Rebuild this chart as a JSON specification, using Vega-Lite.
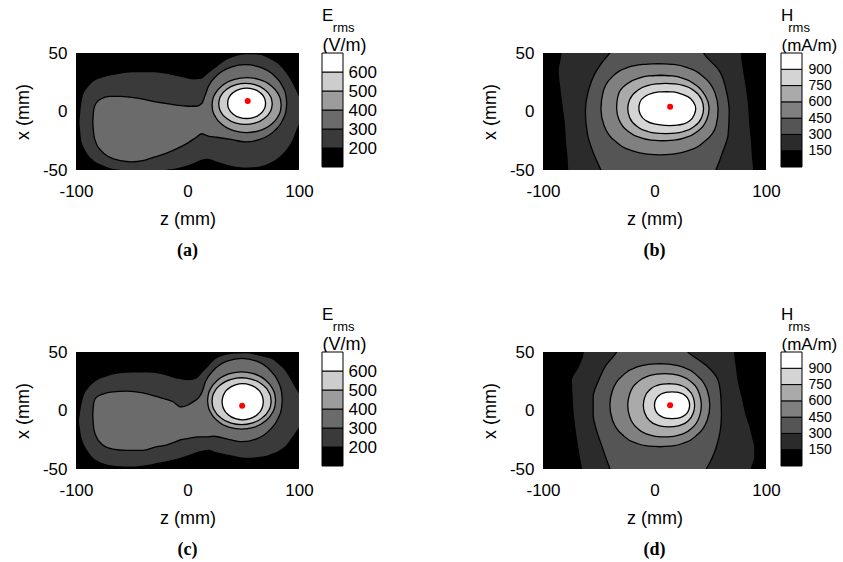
{
  "$schema": "https://vega.github.io/schema/vega-lite/v6.json",
  "autosize": {"type": "none"},
  "padding": {"left": 76, "top": 53, "right": 767, "bottom": 509},
  "background": "white",
  "config": {
    "view": {"stroke": null},
    "font": "Liberation Sans",
    "axis": {"labelFont": "Liberation Sans", "titleFont": "Liberation Sans", "labelColor": "black", "titleColor": "black", "titleFontWeight": "normal", "grid": false, "domain": false, "ticks": false, "labelFlush": false, "labelOverlap": false},
    "title": {"color": "black", "subtitleColor": "black"}
  },
  "datasets": {
    "cbe": [{"lo":100,"hi":200},{"lo":200,"hi":300},{"lo":300,"hi":400},{"lo":400,"hi":500},{"lo":500,"hi":600},{"lo":600,"hi":700}],
    "cbh": [{"lo":0,"hi":150},{"lo":150,"hi":300},{"lo":300,"hi":450},{"lo":450,"hi":600},{"lo":600,"hi":750},{"lo":750,"hi":900},{"lo":900,"hi":1050}],
    "ea": [
      {"lev":200,"z":-97.5,"lo":-9,"hi":-9},{"lev":200,"z":-96,"lo":-24,"hi":6},{"lev":200,"z":-94,"lo":-30,"hi":15},{"lev":200,"z":-90,"lo":-37,"hi":21},{"lev":200,"z":-85,"lo":-42,"hi":26},{"lev":200,"z":-75,"lo":-47,"hi":30},{"lev":200,"z":-65,"lo":-50,"hi":32},{"lev":200,"z":-50,"lo":-51,"hi":34},{"lev":200,"z":-30,"lo":-51,"hi":34},{"lev":200,"z":-15,"lo":-50,"hi":32},{"lev":200,"z":-5,"lo":-48,"hi":30},{"lev":200,"z":5,"lo":-45,"hi":28},{"lev":200,"z":12,"lo":-42,"hi":28.5},{"lev":200,"z":18,"lo":-41,"hi":33},{"lev":200,"z":25,"lo":-43,"hi":38},{"lev":200,"z":35,"lo":-46,"hi":45},{"lev":200,"z":45,"lo":-48,"hi":48.5},{"lev":200,"z":55,"lo":-48.5,"hi":49.5},{"lev":200,"z":65,"lo":-47.5,"hi":49},{"lev":200,"z":75,"lo":-44,"hi":45},{"lev":200,"z":83,"lo":-39,"hi":40},{"lev":200,"z":90,"lo":-32,"hi":32},{"lev":200,"z":95,"lo":-24,"hi":24},{"lev":200,"z":99,"lo":-14,"hi":16},{"lev":200,"z":101,"lo":-10,"hi":12},
      {"lev":300,"z":-85,"lo":-9,"hi":-9},{"lev":300,"z":-84,"lo":-20,"hi":2},{"lev":300,"z":-82,"lo":-27,"hi":7},{"lev":300,"z":-78,"lo":-33,"hi":10.5},{"lev":300,"z":-70,"lo":-39,"hi":13},{"lev":300,"z":-60,"lo":-42,"hi":13},{"lev":300,"z":-50,"lo":-43,"hi":12},{"lev":300,"z":-40,"lo":-42,"hi":10.5},{"lev":300,"z":-30,"lo":-39,"hi":8.5},{"lev":300,"z":-20,"lo":-36,"hi":7},{"lev":300,"z":-10,"lo":-32,"hi":5.5},{"lev":300,"z":0,"lo":-27,"hi":4.5},{"lev":300,"z":8,"lo":-22,"hi":4.5},{"lev":300,"z":13,"lo":-19,"hi":7},{"lev":300,"z":15.7,"lo":-20,"hi":13.6},{"lev":300,"z":18.7,"lo":-21,"hi":21.4},{"lev":300,"z":26.1,"lo":-22,"hi":30.6},{"lev":300,"z":39.05,"lo":-23.9,"hi":37.9},{"lev":300,"z":52,"lo":-26,"hi":40},{"lev":300,"z":64.95,"lo":-23.9,"hi":37.9},{"lev":300,"z":77.9,"lo":-16.6,"hi":30.6},{"lev":300,"z":85.3,"lo":-7.4,"hi":21.4},{"lev":300,"z":88.3,"lo":0.4,"hi":13.6},{"lev":300,"z":89,"lo":7,"hi":7},
      {"lev":400,"z":22,"lo":5.5,"hi":5.5},{"lev":400,"z":22.6,"lo":0.8,"hi":10.2},{"lev":400,"z":25.1,"lo":-4.7,"hi":15.7},{"lev":400,"z":31.3,"lo":-11.3,"hi":22.3},{"lev":400,"z":42.2,"lo":-16.5,"hi":27.5},{"lev":400,"z":53,"lo":-18,"hi":29},{"lev":400,"z":63.9,"lo":-16.5,"hi":27.5},{"lev":400,"z":74.7,"lo":-11.3,"hi":22.3},{"lev":400,"z":80.9,"lo":-4.7,"hi":15.7},{"lev":400,"z":83.4,"lo":0.8,"hi":10.2},{"lev":400,"z":84,"lo":5.5,"hi":5.5},
      {"lev":500,"z":28,"lo":6.5,"hi":6.5},{"lev":500,"z":28.5,"lo":3,"hi":10},{"lev":500,"z":30.4,"lo":-1.1,"hi":14.1},{"lev":500,"z":35.2,"lo":-6,"hi":19},{"lev":500,"z":43.6,"lo":-9.9,"hi":22.9},{"lev":500,"z":52,"lo":-11,"hi":24},{"lev":500,"z":60.4,"lo":-9.9,"hi":22.9},{"lev":500,"z":68.8,"lo":-6,"hi":19},{"lev":500,"z":73.6,"lo":-1.1,"hi":14.1},{"lev":500,"z":75.5,"lo":3,"hi":10},{"lev":500,"z":76,"lo":6.5,"hi":6.5},
      {"lev":600,"z":36,"lo":7,"hi":7},{"lev":600,"z":36.3,"lo":4.4,"hi":9.6},{"lev":600,"z":37.7,"lo":1.3,"hi":12.7},{"lev":600,"z":41.1,"lo":-2.3,"hi":16.3},{"lev":600,"z":47.05,"lo":-5.2,"hi":19.2},{"lev":600,"z":53,"lo":-6,"hi":20},{"lev":600,"z":58.95,"lo":-5.2,"hi":19.2},{"lev":600,"z":64.9,"lo":-2.3,"hi":16.3},{"lev":600,"z":68.3,"lo":1.3,"hi":12.7},{"lev":600,"z":69.7,"lo":4.4,"hi":9.6},{"lev":600,"z":70,"lo":7,"hi":7}
    ],
    "ec": [
      {"lev":200,"z":-98,"lo":-9,"hi":-9},{"lev":200,"z":-96,"lo":-22,"hi":4},{"lev":200,"z":-94,"lo":-28,"hi":12},{"lev":200,"z":-90,"lo":-35,"hi":19},{"lev":200,"z":-85,"lo":-41,"hi":24},{"lev":200,"z":-82,"lo":-43,"hi":26},{"lev":200,"z":-75,"lo":-46,"hi":29},{"lev":200,"z":-64,"lo":-48,"hi":32},{"lev":200,"z":-49,"lo":-48.5,"hi":33},{"lev":200,"z":-35,"lo":-47,"hi":33},{"lev":200,"z":-25,"lo":-45,"hi":32},{"lev":200,"z":-10,"lo":-42,"hi":28},{"lev":200,"z":0,"lo":-39,"hi":26.5},{"lev":200,"z":7,"lo":-36.6,"hi":27.5},{"lev":200,"z":13,"lo":-35,"hi":33},{"lev":200,"z":19,"lo":-34,"hi":39},{"lev":200,"z":25,"lo":-36,"hi":44.6},{"lev":200,"z":32,"lo":-37.5,"hi":47.5},{"lev":200,"z":40,"lo":-39,"hi":49},{"lev":200,"z":52,"lo":-41,"hi":49.5},{"lev":200,"z":62,"lo":-40.5,"hi":48},{"lev":200,"z":70,"lo":-39.5,"hi":46},{"lev":200,"z":76,"lo":-37.5,"hi":44.6},{"lev":200,"z":82,"lo":-35,"hi":40},{"lev":200,"z":88,"lo":-31,"hi":34.6},{"lev":200,"z":93,"lo":-25,"hi":27},{"lev":200,"z":97,"lo":-19.5,"hi":20},{"lev":200,"z":101,"lo":-14,"hi":14},
      {"lev":300,"z":-85,"lo":-4,"hi":-4},{"lev":300,"z":-84,"lo":-16,"hi":7},{"lev":300,"z":-82,"lo":-22,"hi":11},{"lev":300,"z":-76,"lo":-29.5,"hi":14},{"lev":300,"z":-67,"lo":-33,"hi":16},{"lev":300,"z":-55,"lo":-34,"hi":16.5},{"lev":300,"z":-40,"lo":-34,"hi":15},{"lev":300,"z":-28,"lo":-31,"hi":12},{"lev":300,"z":-19,"lo":-29.5,"hi":9.5},{"lev":300,"z":-13,"lo":-27.5,"hi":7.5},{"lev":300,"z":-6,"lo":-25,"hi":3},{"lev":300,"z":0,"lo":-24,"hi":4.5},{"lev":300,"z":6,"lo":-23,"hi":8},{"lev":300,"z":10,"lo":-22.5,"hi":11},{"lev":300,"z":13.2,"lo":-22.5,"hi":16.1},{"lev":300,"z":16.1,"lo":-22.5,"hi":24.5},{"lev":300,"z":23.4,"lo":-22,"hi":34.4},{"lev":300,"z":36.1,"lo":-24.4,"hi":42.4},{"lev":300,"z":48.75,"lo":-26.6,"hi":44.6},{"lev":300,"z":61.4,"lo":-24.4,"hi":42.4},{"lev":300,"z":74.1,"lo":-16.4,"hi":34.4},{"lev":300,"z":81.4,"lo":-6.5,"hi":24.5},{"lev":300,"z":84.3,"lo":1.9,"hi":16.1},{"lev":300,"z":85,"lo":9,"hi":9},
      {"lev":400,"z":18,"lo":8.5,"hi":8.5},{"lev":400,"z":18.6,"lo":3.6,"hi":13.4},{"lev":400,"z":21.05,"lo":-2.2,"hi":19.2},{"lev":400,"z":27.15,"lo":-9,"hi":26},{"lev":400,"z":37.8,"lo":-14.5,"hi":31.5},{"lev":400,"z":48.5,"lo":-16,"hi":33},{"lev":400,"z":59.2,"lo":-14.5,"hi":31.5},{"lev":400,"z":69.85,"lo":-9,"hi":26},{"lev":400,"z":75.95,"lo":-2.2,"hi":19.2},{"lev":400,"z":78.4,"lo":3.6,"hi":13.4},{"lev":400,"z":79,"lo":8.5,"hi":8.5},
      {"lev":500,"z":22,"lo":8,"hi":8},{"lev":500,"z":22.5,"lo":4,"hi":12},{"lev":500,"z":24.65,"lo":-0.7,"hi":16.7},{"lev":500,"z":29.95,"lo":-6.3,"hi":22.3},{"lev":500,"z":39.2,"lo":-10.7,"hi":26.7},{"lev":500,"z":48.5,"lo":-12,"hi":28},{"lev":500,"z":57.8,"lo":-10.7,"hi":26.7},{"lev":500,"z":67.05,"lo":-6.3,"hi":22.3},{"lev":500,"z":72.35,"lo":-0.7,"hi":16.7},{"lev":500,"z":74.5,"lo":4,"hi":12},{"lev":500,"z":75,"lo":8,"hi":8},
      {"lev":600,"z":31,"lo":7.5,"hi":7.5},{"lev":600,"z":31.4,"lo":4.4,"hi":10.6},{"lev":600,"z":32.85,"lo":0.7,"hi":14.3},{"lev":600,"z":36.55,"lo":-3.6,"hi":18.6},{"lev":600,"z":43,"lo":-7,"hi":22},{"lev":600,"z":49.5,"lo":-8,"hi":23},{"lev":600,"z":56,"lo":-7,"hi":22},{"lev":600,"z":62.45,"lo":-3.6,"hi":18.6},{"lev":600,"z":66.15,"lo":0.7,"hi":14.3},{"lev":600,"z":67.6,"lo":4.4,"hi":10.6},{"lev":600,"z":68,"lo":7.5,"hi":7.5}
    ],
    "hb": [
      {"lev":150,"x":52,"zl":-84,"zr":78},{"lev":150,"x":50,"zl":-84,"zr":78},{"lev":150,"x":35,"zl":-86.5,"zr":80},{"lev":150,"x":20,"zl":-85,"zr":82.5},{"lev":150,"x":5,"zl":-83,"zr":84.5},{"lev":150,"x":-10,"zl":-81,"zr":85.5},{"lev":150,"x":-25,"zl":-80,"zr":87},{"lev":150,"x":-40,"zl":-78.5,"zr":88},{"lev":150,"x":-50,"zl":-78,"zr":89},{"lev":150,"x":-52,"zl":-78,"zr":89},
      {"lev":300,"x":52,"zl":-38,"zr":43},{"lev":300,"x":50,"zl":-40,"zr":44},{"lev":300,"x":35,"zl":-52,"zr":58},{"lev":300,"x":15,"zl":-60,"zr":65},{"lev":300,"x":0,"zl":-62,"zr":67},{"lev":300,"x":-20,"zl":-60,"zr":66},{"lev":300,"x":-35,"zl":-55,"zr":61},{"lev":300,"x":-50,"zl":-48,"zr":55},{"lev":300,"x":-52,"zl":-47,"zr":54},
      {"lev":450,"x":-37,"zl":5,"zr":5},{"lev":450,"x":-36.2,"zl":-8.25,"zr":18.25},{"lev":450,"x":-33.1,"zl":-21.5,"zr":31.5},{"lev":450,"x":-25.3,"zl":-35.3,"zr":45.3},{"lev":450,"x":-11.7,"zl":-45.35,"zr":55.35},{"lev":450,"x":2,"zl":-48,"zr":57},{"lev":450,"x":15.7,"zl":-46.35,"zr":54.35},{"lev":450,"x":29.3,"zl":-38.3,"zr":44.3},{"lev":450,"x":37.1,"zl":-25.5,"zr":30.5},{"lev":450,"x":40.2,"zl":-10.25,"zr":17.25},{"lev":450,"x":41,"zl":3,"zr":3},
      {"lev":600,"x":-25,"zl":7.5,"zr":7.5},{"lev":600,"x":-24.44,"zl":-2.9,"zr":17.9},{"lev":600,"x":-22.2,"zl":-13.25,"zr":28.25},{"lev":600,"x":-16.6,"zl":-24,"zr":39},{"lev":600,"x":-6.8,"zl":-31.9,"zr":46.9},{"lev":600,"x":3,"zl":-34,"zr":49},{"lev":600,"x":12.8,"zl":-32.9,"zr":45.9},{"lev":600,"x":22.6,"zl":-26,"zr":37},{"lev":600,"x":28.2,"zl":-15.25,"zr":26.25},{"lev":600,"x":30.44,"zl":-4.9,"zr":15.9},{"lev":600,"x":31,"zl":5.5,"zr":5.5},
      {"lev":750,"x":-19,"zl":10,"zr":10},{"lev":750,"x":-18.57,"zl":1.5,"zr":18.5},{"lev":750,"x":-16.85,"zl":-7,"zr":27},{"lev":750,"x":-12.55,"zl":-15.8,"zr":35.8},{"lev":750,"x":-5.03,"zl":-22.3,"zr":42.3},{"lev":750,"x":2.5,"zl":-24,"zr":44},{"lev":750,"x":10.03,"zl":-22.3,"zr":42.3},{"lev":750,"x":17.55,"zl":-15.8,"zr":35.8},{"lev":750,"x":21.85,"zl":-7,"zr":27},{"lev":750,"x":23.57,"zl":1.5,"zr":18.5},{"lev":750,"x":24,"zl":10,"zr":10},
      {"lev":900,"x":-12,"zl":13.5,"zr":13.5},{"lev":900,"x":-11.71,"zl":7.1,"zr":19.9},{"lev":900,"x":-10.55,"zl":-0.25,"zr":26.25},{"lev":900,"x":-7.65,"zl":-7.9,"zr":31.9},{"lev":900,"x":-2.58,"zl":-12.7,"zr":35.7},{"lev":900,"x":2.5,"zl":-14,"zr":37},{"lev":900,"x":7.58,"zl":-13.2,"zr":35.2},{"lev":900,"x":12.65,"zl":-8.9,"zr":29.9},{"lev":900,"x":15.55,"zl":-2.25,"zr":22.25},{"lev":900,"x":16.71,"zl":4.1,"zr":16.9},{"lev":900,"x":17,"zl":10.5,"zr":10.5}
    ],
    "hd": [
      {"lev":150,"x":52,"zl":-64,"zr":72},{"lev":150,"x":50,"zl":-64,"zr":72},{"lev":150,"x":37,"zl":-68.6,"zr":73.5},{"lev":150,"x":26,"zl":-74.6,"zr":75},{"lev":150,"x":12,"zl":-74,"zr":78.5},{"lev":150,"x":-3,"zl":-73,"zr":82},{"lev":150,"x":-15,"zl":-71.5,"zr":86},{"lev":150,"x":-25,"zl":-70,"zr":88.5},{"lev":150,"x":-31,"zl":-69,"zr":90},{"lev":150,"x":-40,"zl":-67.5,"zr":90},{"lev":150,"x":-50,"zl":-65.6,"zr":87},{"lev":150,"x":-52,"zl":-65.5,"zr":87},
      {"lev":300,"x":52,"zl":-33,"zr":28},{"lev":300,"x":50,"zl":-34,"zr":30},{"lev":300,"x":38,"zl":-44,"zr":47},{"lev":300,"x":26,"zl":-50,"zr":57},{"lev":300,"x":11.5,"zl":-55,"zr":59.5},{"lev":300,"x":-3,"zl":-55,"zr":60},{"lev":300,"x":-17,"zl":-52,"zr":59},{"lev":300,"x":-31,"zl":-47,"zr":55.5},{"lev":300,"x":-42,"zl":-43,"zr":51},{"lev":300,"x":-50,"zl":-40,"zr":46.5},{"lev":300,"x":-52,"zl":-39.5,"zr":45.5},
      {"lev":450,"x":-31,"zl":4.8,"zr":4.8},{"lev":450,"x":-30.29,"zl":-6.4,"zr":16},{"lev":450,"x":-27.45,"zl":-17.6,"zr":27.2},{"lev":450,"x":-20.35,"zl":-29.2,"zr":38.8},{"lev":450,"x":-7.93,"zl":-37.8,"zr":47.4},{"lev":450,"x":4.5,"zl":-40,"zr":49.6},{"lev":450,"x":16.93,"zl":-37.8,"zr":47.4},{"lev":450,"x":29.35,"zl":-29.2,"zr":38.8},{"lev":450,"x":36.45,"zl":-17.6,"zr":27.2},{"lev":450,"x":39.29,"zl":-6.4,"zr":16},{"lev":450,"x":40,"zl":4.8,"zr":4.8},
      {"lev":600,"x":-22.6,"zl":9,"zr":9},{"lev":600,"x":-22.06,"zl":0.75,"zr":17.25},{"lev":600,"x":-19.9,"zl":-7.5,"zr":25.5},{"lev":600,"x":-14.5,"zl":-16.1,"zr":34.1},{"lev":600,"x":-5.02,"zl":-22.35,"zr":40.35},{"lev":600,"x":4.45,"zl":-24,"zr":42},{"lev":600,"x":13.92,"zl":-22.35,"zr":40.35},{"lev":600,"x":23.4,"zl":-16.1,"zr":34.1},{"lev":600,"x":28.8,"zl":-7.5,"zr":25.5},{"lev":600,"x":30.96,"zl":0.75,"zr":17.25},{"lev":600,"x":31.5,"zl":9,"zr":9},
      {"lev":750,"x":-14,"zl":13,"zr":13},{"lev":750,"x":-13.63,"zl":7.25,"zr":18.75},{"lev":750,"x":-12.15,"zl":1.5,"zr":24.5},{"lev":750,"x":-8.45,"zl":-4.5,"zr":30.5},{"lev":750,"x":-1.98,"zl":-8.85,"zr":34.85},{"lev":750,"x":4.5,"zl":-10,"zr":36},{"lev":750,"x":10.98,"zl":-8.85,"zr":34.85},{"lev":750,"x":17.45,"zl":-4.5,"zr":30.5},{"lev":750,"x":21.15,"zl":1.5,"zr":24.5},{"lev":750,"x":22.63,"zl":7.25,"zr":18.75},{"lev":750,"x":23,"zl":13,"zr":13},
      {"lev":900,"x":-7,"zl":15.75,"zr":15.75},{"lev":900,"x":-6.77,"zl":11.85,"zr":19.65},{"lev":900,"x":-5.85,"zl":7.85,"zr":23.65},{"lev":900,"x":-3.55,"zl":3.75,"zr":27.75},{"lev":900,"x":0.48,"zl":0.75,"zr":30.75},{"lev":900,"x":4.5,"zl":0,"zr":31.5},{"lev":900,"x":8.53,"zl":0.75,"zr":30.75},{"lev":900,"x":12.55,"zl":3.75,"zr":27.75},{"lev":900,"x":14.85,"zl":7.85,"zr":23.65},{"lev":900,"x":15.77,"zl":11.85,"zr":19.65},{"lev":900,"x":16,"zl":15.75,"zr":15.75}
    ]
  },
  "columns": 4,
  "spacing": {"row": 182, "column": 15},
  "bounds": "flush",
  "align": "each",
  "resolve": {"scale": {"fill": "independent"}},
  "concat": [
    {
      "width": 223, "height": 117,
      "view": {"fill": "black"},
      "title": {"text": "(a)", "orient": "bottom", "font": "Liberation Serif", "fontSize": 18, "fontWeight": "bold", "offset": 14, "anchor": "middle"},
      "data": {"name": "ea"},
      "layer": [
        {"transform": [{"filter": "datum.lev == 200"}], "mark": {"type": "area", "interpolate": "monotone", "fill": "#3a3a3a", "stroke": "black", "strokeWidth": 1.3, "clip": true},
         "encoding": {
           "x": {"field": "z", "type": "quantitative", "scale": {"domain": [-100, 100], "nice": false, "zero": false}, "axis": {"values": [-100, 0, 100], "title": "z (mm)", "labelFontSize": 17, "titleFontSize": 18, "labelPadding": 13, "titlePadding": 11, "labelExpr": "'' + datum.value"}},
           "y": {"field": "hi", "type": "quantitative", "scale": {"domain": [-50, 50], "nice": false, "zero": false}, "axis": {"values": [-50, 0, 50], "title": "x (mm)", "labelFontSize": 17, "titleFontSize": 18, "labelPadding": 9, "titlePadding": 10, "labelExpr": "'' + datum.value"}},
           "y2": {"field": "lo"}
         }},
        {"transform": [{"filter": "datum.lev == 300"}], "mark": {"type": "area", "interpolate": "monotone", "fill": "#6b6b6b", "stroke": "black", "strokeWidth": 1.3, "clip": true},
         "encoding": {"x": {"field": "z", "type": "quantitative"}, "y": {"field": "hi", "type": "quantitative"}, "y2": {"field": "lo"}}},
        {"transform": [{"filter": "datum.lev == 400"}], "mark": {"type": "area", "interpolate": "monotone", "fill": "#9c9c9c", "stroke": "black", "strokeWidth": 1.3, "clip": true},
         "encoding": {"x": {"field": "z", "type": "quantitative"}, "y": {"field": "hi", "type": "quantitative"}, "y2": {"field": "lo"}}},
        {"transform": [{"filter": "datum.lev == 500"}], "mark": {"type": "area", "interpolate": "monotone", "fill": "#cdcdcd", "stroke": "black", "strokeWidth": 1.3, "clip": true},
         "encoding": {"x": {"field": "z", "type": "quantitative"}, "y": {"field": "hi", "type": "quantitative"}, "y2": {"field": "lo"}}},
        {"transform": [{"filter": "datum.lev == 600"}], "mark": {"type": "area", "interpolate": "monotone", "fill": "#ffffff", "stroke": "black", "strokeWidth": 1.3, "clip": true},
         "encoding": {"x": {"field": "z", "type": "quantitative"}, "y": {"field": "hi", "type": "quantitative"}, "y2": {"field": "lo"}}},
        {"data": {"values": [{"z": 54, "x": 9}]}, "mark": {"type": "circle", "color": "#ff0000", "size": 36, "opacity": 1},
         "encoding": {"x": {"field": "z", "type": "quantitative"}, "y": {"field": "x", "type": "quantitative"}}}
      ]
    },
    {
      "width": 214, "height": 114,
      "data": {"name": "cbe"},
      "title": {"text": "E", "subtitle": "\u200b\u00a0\u00a0\u00a0rms", "anchor": "start", "frame": "group", "dx": 8, "font": "Liberation Sans", "subtitleFont": "Liberation Sans", "fontSize": 17, "subtitleFontSize": 13, "fontWeight": "normal", "subtitlePadding": -3, "offset": 0},
      "mark": {"type": "rect", "stroke": "black", "strokeWidth": 1},
      "encoding": {
        "x": {"datum": 0, "type": "quantitative", "scale": {"domain": [0, 1], "range": [8, 29]}, "axis": {"orient": "top", "title": "(V/m)", "labels": false, "titleAnchor": "start", "titleAlign": "left", "titlePadding": -1, "titleFontSize": 18}},
        "x2": {"datum": 1},
        "y": {"field": "lo", "type": "quantitative", "scale": {"domain": [100, 700], "nice": false, "zero": false}, "axis": {"orient": "right", "offset": -185, "values": [200, 300, 400, 500, 600], "title": null, "labelFontSize": 17, "labelPadding": 5}},
        "y2": {"field": "hi"},
        "fill": {"field": "lo", "type": "ordinal", "scale": {"domain": [100, 200, 300, 400, 500, 600], "range": ["#000000", "#3a3a3a", "#6b6b6b", "#9c9c9c", "#cdcdcd", "#ffffff"]}, "legend": null}
      }
    },
    {
      "width": 223, "height": 117,
      "view": {"fill": "black"},
      "title": {"text": "(b)", "orient": "bottom", "font": "Liberation Serif", "fontSize": 18, "fontWeight": "bold", "offset": 14, "anchor": "middle"},
      "data": {"name": "hb"},
      "layer": [
        {"transform": [{"filter": "datum.lev == 150"}], "mark": {"type": "area", "orient": "horizontal", "interpolate": "monotone", "fill": "#2b2b2b", "stroke": "black", "strokeWidth": 1.3, "clip": true},
         "encoding": {
           "y": {"field": "x", "type": "quantitative", "scale": {"domain": [-50, 50], "nice": false, "zero": false}, "axis": {"values": [-50, 0, 50], "title": "x (mm)", "labelFontSize": 17, "titleFontSize": 18, "labelPadding": 9, "titlePadding": 10, "labelExpr": "'' + datum.value"}},
           "x": {"field": "zl", "type": "quantitative", "scale": {"domain": [-100, 100], "nice": false, "zero": false}, "axis": {"values": [-100, 0, 100], "title": "z (mm)", "labelFontSize": 17, "titleFontSize": 18, "labelPadding": 13, "titlePadding": 11, "labelExpr": "'' + datum.value"}},
           "x2": {"field": "zr"}
         }},
        {"transform": [{"filter": "datum.lev == 300"}], "mark": {"type": "area", "orient": "horizontal", "interpolate": "monotone", "fill": "#555555", "stroke": "black", "strokeWidth": 1.3, "clip": true},
         "encoding": {"y": {"field": "x", "type": "quantitative"}, "x": {"field": "zl", "type": "quantitative"}, "x2": {"field": "zr"}}},
        {"transform": [{"filter": "datum.lev == 450"}], "mark": {"type": "area", "orient": "horizontal", "interpolate": "monotone", "fill": "#808080", "stroke": "black", "strokeWidth": 1.3, "clip": true},
         "encoding": {"y": {"field": "x", "type": "quantitative"}, "x": {"field": "zl", "type": "quantitative"}, "x2": {"field": "zr"}}},
        {"transform": [{"filter": "datum.lev == 600"}], "mark": {"type": "area", "orient": "horizontal", "interpolate": "monotone", "fill": "#aaaaaa", "stroke": "black", "strokeWidth": 1.3, "clip": true},
         "encoding": {"y": {"field": "x", "type": "quantitative"}, "x": {"field": "zl", "type": "quantitative"}, "x2": {"field": "zr"}}},
        {"transform": [{"filter": "datum.lev == 750"}], "mark": {"type": "area", "orient": "horizontal", "interpolate": "monotone", "fill": "#d4d4d4", "stroke": "black", "strokeWidth": 1.3, "clip": true},
         "encoding": {"y": {"field": "x", "type": "quantitative"}, "x": {"field": "zl", "type": "quantitative"}, "x2": {"field": "zr"}}},
        {"transform": [{"filter": "datum.lev == 900"}], "mark": {"type": "area", "orient": "horizontal", "interpolate": "monotone", "fill": "#ffffff", "stroke": "black", "strokeWidth": 1.3, "clip": true},
         "encoding": {"y": {"field": "x", "type": "quantitative"}, "x": {"field": "zl", "type": "quantitative"}, "x2": {"field": "zr"}}},
        {"data": {"values": [{"z": 14, "x": 4}]}, "mark": {"type": "circle", "color": "#ff0000", "size": 36, "opacity": 1},
         "encoding": {"x": {"field": "z", "type": "quantitative"}, "y": {"field": "x", "type": "quantitative"}}}
      ]
    },
    {
      "width": 21, "height": 114,
      "data": {"name": "cbh"},
      "title": {"text": "H", "subtitle": "\u200b\u00a0\u00a0rms", "anchor": "start", "frame": "group", "dx": 0, "font": "Liberation Sans", "subtitleFont": "Liberation Sans", "fontSize": 17, "subtitleFontSize": 13, "fontWeight": "normal", "subtitlePadding": -3, "offset": 0},
      "mark": {"type": "rect", "stroke": "black", "strokeWidth": 1},
      "encoding": {
        "x": {"datum": 0, "type": "quantitative", "scale": {"domain": [0, 1], "range": [0, 21]}, "axis": {"orient": "top", "title": "(mA/m)", "labels": false, "titleAnchor": "start", "titleAlign": "left", "titlePadding": -1, "titleFontSize": 17}},
        "x2": {"datum": 1},
        "y": {"field": "lo", "type": "quantitative", "scale": {"domain": [0, 1050], "nice": false, "zero": false}, "axis": {"orient": "right", "values": [150, 300, 450, 600, 750, 900], "title": null, "labelFontSize": 14, "labelPadding": 6}},
        "y2": {"field": "hi"},
        "fill": {"field": "lo", "type": "ordinal", "scale": {"domain": [0, 150, 300, 450, 600, 750, 900], "range": ["#000000", "#2b2b2b", "#555555", "#808080", "#aaaaaa", "#d4d4d4", "#ffffff"]}, "legend": null}
      }
    },
    {
      "width": 223, "height": 117,
      "view": {"fill": "black"},
      "title": {"text": "(c)", "orient": "bottom", "font": "Liberation Serif", "fontSize": 18, "fontWeight": "bold", "offset": 14, "anchor": "middle"},
      "data": {"name": "ec"},
      "layer": [
        {"transform": [{"filter": "datum.lev == 200"}], "mark": {"type": "area", "interpolate": "monotone", "fill": "#3a3a3a", "stroke": "black", "strokeWidth": 1.3, "clip": true},
         "encoding": {
           "x": {"field": "z", "type": "quantitative", "scale": {"domain": [-100, 100], "nice": false, "zero": false}, "axis": {"values": [-100, 0, 100], "title": "z (mm)", "labelFontSize": 17, "titleFontSize": 18, "labelPadding": 13, "titlePadding": 11, "labelExpr": "'' + datum.value"}},
           "y": {"field": "hi", "type": "quantitative", "scale": {"domain": [-50, 50], "nice": false, "zero": false}, "axis": {"values": [-50, 0, 50], "title": "x (mm)", "labelFontSize": 17, "titleFontSize": 18, "labelPadding": 9, "titlePadding": 10, "labelExpr": "'' + datum.value"}},
           "y2": {"field": "lo"}
         }},
        {"transform": [{"filter": "datum.lev == 300"}], "mark": {"type": "area", "interpolate": "monotone", "fill": "#6b6b6b", "stroke": "black", "strokeWidth": 1.3, "clip": true},
         "encoding": {"x": {"field": "z", "type": "quantitative"}, "y": {"field": "hi", "type": "quantitative"}, "y2": {"field": "lo"}}},
        {"transform": [{"filter": "datum.lev == 400"}], "mark": {"type": "area", "interpolate": "monotone", "fill": "#9c9c9c", "stroke": "black", "strokeWidth": 1.3, "clip": true},
         "encoding": {"x": {"field": "z", "type": "quantitative"}, "y": {"field": "hi", "type": "quantitative"}, "y2": {"field": "lo"}}},
        {"transform": [{"filter": "datum.lev == 500"}], "mark": {"type": "area", "interpolate": "monotone", "fill": "#cdcdcd", "stroke": "black", "strokeWidth": 1.3, "clip": true},
         "encoding": {"x": {"field": "z", "type": "quantitative"}, "y": {"field": "hi", "type": "quantitative"}, "y2": {"field": "lo"}}},
        {"transform": [{"filter": "datum.lev == 600"}], "mark": {"type": "area", "interpolate": "monotone", "fill": "#ffffff", "stroke": "black", "strokeWidth": 1.3, "clip": true},
         "encoding": {"x": {"field": "z", "type": "quantitative"}, "y": {"field": "hi", "type": "quantitative"}, "y2": {"field": "lo"}}},
        {"data": {"values": [{"z": 49, "x": 4}]}, "mark": {"type": "circle", "color": "#ff0000", "size": 36, "opacity": 1},
         "encoding": {"x": {"field": "z", "type": "quantitative"}, "y": {"field": "x", "type": "quantitative"}}}
      ]
    },
    {
      "width": 214, "height": 114,
      "data": {"name": "cbe"},
      "title": {"text": "E", "subtitle": "\u200b\u00a0\u00a0\u00a0rms", "anchor": "start", "frame": "group", "dx": 8, "font": "Liberation Sans", "subtitleFont": "Liberation Sans", "fontSize": 17, "subtitleFontSize": 13, "fontWeight": "normal", "subtitlePadding": -3, "offset": 0},
      "mark": {"type": "rect", "stroke": "black", "strokeWidth": 1},
      "encoding": {
        "x": {"datum": 0, "type": "quantitative", "scale": {"domain": [0, 1], "range": [8, 29]}, "axis": {"orient": "top", "title": "(V/m)", "labels": false, "titleAnchor": "start", "titleAlign": "left", "titlePadding": -1, "titleFontSize": 18}},
        "x2": {"datum": 1},
        "y": {"field": "lo", "type": "quantitative", "scale": {"domain": [100, 700], "nice": false, "zero": false}, "axis": {"orient": "right", "offset": -185, "values": [200, 300, 400, 500, 600], "title": null, "labelFontSize": 17, "labelPadding": 5}},
        "y2": {"field": "hi"},
        "fill": {"field": "lo", "type": "ordinal", "scale": {"domain": [100, 200, 300, 400, 500, 600], "range": ["#000000", "#3a3a3a", "#6b6b6b", "#9c9c9c", "#cdcdcd", "#ffffff"]}, "legend": null}
      }
    },
    {
      "width": 223, "height": 117,
      "view": {"fill": "black"},
      "title": {"text": "(d)", "orient": "bottom", "font": "Liberation Serif", "fontSize": 18, "fontWeight": "bold", "offset": 14, "anchor": "middle"},
      "data": {"name": "hd"},
      "layer": [
        {"transform": [{"filter": "datum.lev == 150"}], "mark": {"type": "area", "orient": "horizontal", "interpolate": "monotone", "fill": "#2b2b2b", "stroke": "black", "strokeWidth": 1.3, "clip": true},
         "encoding": {
           "y": {"field": "x", "type": "quantitative", "scale": {"domain": [-50, 50], "nice": false, "zero": false}, "axis": {"values": [-50, 0, 50], "title": "x (mm)", "labelFontSize": 17, "titleFontSize": 18, "labelPadding": 9, "titlePadding": 10, "labelExpr": "'' + datum.value"}},
           "x": {"field": "zl", "type": "quantitative", "scale": {"domain": [-100, 100], "nice": false, "zero": false}, "axis": {"values": [-100, 0, 100], "title": "z (mm)", "labelFontSize": 17, "titleFontSize": 18, "labelPadding": 13, "titlePadding": 11, "labelExpr": "'' + datum.value"}},
           "x2": {"field": "zr"}
         }},
        {"transform": [{"filter": "datum.lev == 300"}], "mark": {"type": "area", "orient": "horizontal", "interpolate": "monotone", "fill": "#555555", "stroke": "black", "strokeWidth": 1.3, "clip": true},
         "encoding": {"y": {"field": "x", "type": "quantitative"}, "x": {"field": "zl", "type": "quantitative"}, "x2": {"field": "zr"}}},
        {"transform": [{"filter": "datum.lev == 450"}], "mark": {"type": "area", "orient": "horizontal", "interpolate": "monotone", "fill": "#808080", "stroke": "black", "strokeWidth": 1.3, "clip": true},
         "encoding": {"y": {"field": "x", "type": "quantitative"}, "x": {"field": "zl", "type": "quantitative"}, "x2": {"field": "zr"}}},
        {"transform": [{"filter": "datum.lev == 600"}], "mark": {"type": "area", "orient": "horizontal", "interpolate": "monotone", "fill": "#aaaaaa", "stroke": "black", "strokeWidth": 1.3, "clip": true},
         "encoding": {"y": {"field": "x", "type": "quantitative"}, "x": {"field": "zl", "type": "quantitative"}, "x2": {"field": "zr"}}},
        {"transform": [{"filter": "datum.lev == 750"}], "mark": {"type": "area", "orient": "horizontal", "interpolate": "monotone", "fill": "#d4d4d4", "stroke": "black", "strokeWidth": 1.3, "clip": true},
         "encoding": {"y": {"field": "x", "type": "quantitative"}, "x": {"field": "zl", "type": "quantitative"}, "x2": {"field": "zr"}}},
        {"transform": [{"filter": "datum.lev == 900"}], "mark": {"type": "area", "orient": "horizontal", "interpolate": "monotone", "fill": "#ffffff", "stroke": "black", "strokeWidth": 1.3, "clip": true},
         "encoding": {"y": {"field": "x", "type": "quantitative"}, "x": {"field": "zl", "type": "quantitative"}, "x2": {"field": "zr"}}},
        {"data": {"values": [{"z": 14, "x": 4.4}]}, "mark": {"type": "circle", "color": "#ff0000", "size": 36, "opacity": 1},
         "encoding": {"x": {"field": "z", "type": "quantitative"}, "y": {"field": "x", "type": "quantitative"}}}
      ]
    },
    {
      "width": 21, "height": 114,
      "data": {"name": "cbh"},
      "title": {"text": "H", "subtitle": "\u200b\u00a0\u00a0rms", "anchor": "start", "frame": "group", "dx": 0, "font": "Liberation Sans", "subtitleFont": "Liberation Sans", "fontSize": 17, "subtitleFontSize": 13, "fontWeight": "normal", "subtitlePadding": -3, "offset": 0},
      "mark": {"type": "rect", "stroke": "black", "strokeWidth": 1},
      "encoding": {
        "x": {"datum": 0, "type": "quantitative", "scale": {"domain": [0, 1], "range": [0, 21]}, "axis": {"orient": "top", "title": "(mA/m)", "labels": false, "titleAnchor": "start", "titleAlign": "left", "titlePadding": -1, "titleFontSize": 17}},
        "x2": {"datum": 1},
        "y": {"field": "lo", "type": "quantitative", "scale": {"domain": [0, 1050], "nice": false, "zero": false}, "axis": {"orient": "right", "values": [150, 300, 450, 600, 750, 900], "title": null, "labelFontSize": 14, "labelPadding": 6}},
        "y2": {"field": "hi"},
        "fill": {"field": "lo", "type": "ordinal", "scale": {"domain": [0, 150, 300, 450, 600, 750, 900], "range": ["#000000", "#2b2b2b", "#555555", "#808080", "#aaaaaa", "#d4d4d4", "#ffffff"]}, "legend": null}
      }
    }
  ]
}
